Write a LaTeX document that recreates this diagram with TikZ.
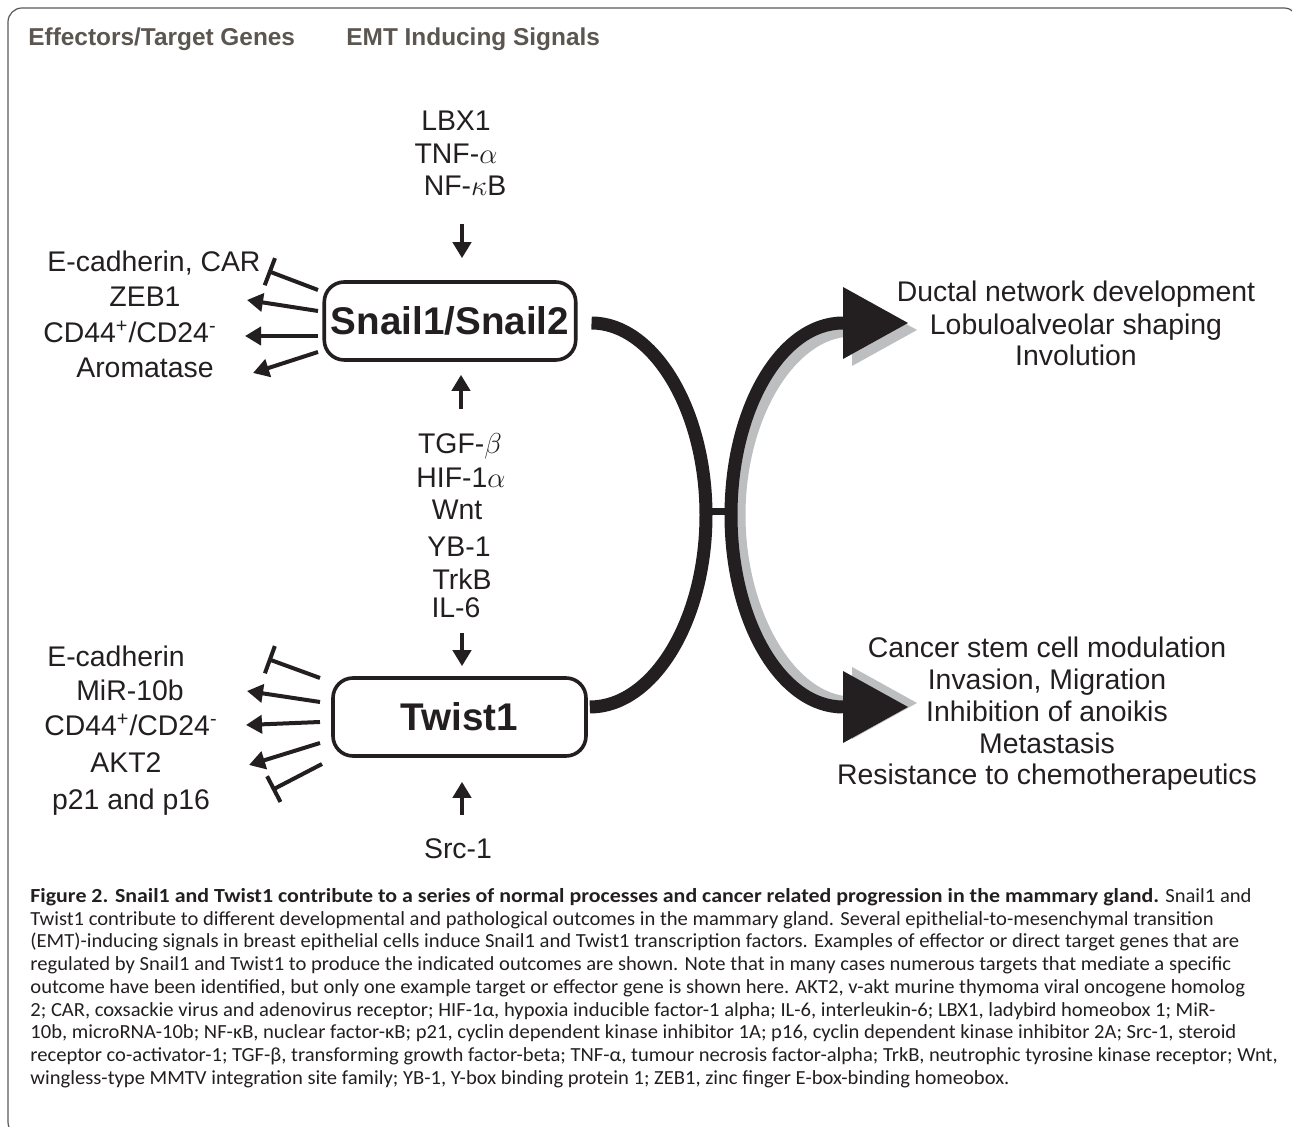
\documentclass[tikz,border=0pt]{standalone}
\usepackage{fontspec}
\setmainfont{Liberation Sans}
\newfontfamily\capfont{Carlito}[FakeStretch=1.03, BoldFeatures={FakeStretch=1.095}]
\usetikzlibrary{arrows.meta,calc}

\definecolor{ink}{HTML}{231F20}
\definecolor{headgray}{HTML}{5C5650}
\definecolor{shadegray}{HTML}{BCBEC0}
\definecolor{framegray}{HTML}{58595B}

\tikzset{
  lbl/.style={font=\fontsize{14.2}{17}\selectfont, text=ink, inner sep=0pt, anchor=base},
  hdr/.style={font=\fontsize{12.2}{14}\selectfont\bfseries, text=headgray, inner sep=0pt, anchor=base west},
  tfbox/.style={draw=ink, line width=1.8pt, rounded corners=10pt, font=\fontsize{19.3}{22}\selectfont\bfseries, text=ink},
  induce/.style={draw=ink, line width=2pt, -{Triangle[length=8pt,width=9pt]}},
  inhib/.style={draw=ink, line width=2pt, -{Bar[width=14.5pt]}},
  outarc/.style={line width=6.5pt, {Triangle[length=32.5pt,width=36pt,line width=0pt]}-{Triangle[length=32.5pt,width=36pt,line width=0pt]}}
}

\begin{document}
\begin{tikzpicture}[x=0.5pt, y=-0.5pt]

 \useasboundingbox (0,0) rectangle (1292,1127);

	%frame
 \draw[framegray, line width=0.6pt, rounded corners=7pt] (30,1136) -- (8,1136) -- (8,8) -- (1298,8) -- (1298,30);

	%titles
 \node[hdr] (hEff) at (28,46) {Effectors/Target Genes};
 \node[hdr] (hEmt) at (346,46) {EMT Inducing Signals};

	%transcription factors
 \node[tfbox, minimum width=124pt, minimum height=39pt] (snail) at (450,321) {Snail1/Snail2};
 \node[tfbox, minimum width=126.5pt, minimum height=39pt] (twist) at (459.5,717) {Twist1};

	%draw signals
    \foreach \x/\y/\txt/\name in {456/131/LBX1/lbx,456/164/TNF-$\alpha$/tnf,465/196/NF-$\kappa$B/nfkb}{
           \node[lbl] (\name) at (\x,\y) {\txt};
    }
    \foreach \x/\y/\txt/\name in {460/454/TGF-$\beta$/tgf,461/488/HIF-1$\alpha$/hif,457/520/Wnt/wnt,459/557/YB-1/yb,462/590/TrkB/trkb,456/618/IL-6/il}{
           \node[lbl] (\name) at (\x,\y) {\txt};
    }
 \node[lbl] (src) at (458,859) {Src-1};

 \draw[induce] ($(nfkb.base)+(-3,28)$) -- ($(nfkb.base |- snail.north)+(-3,-22)$);
 \draw[induce] ($(tgf.base)+(1,-45)$) -- ($(tgf.base |- snail.south)+(1,13)$);
 \draw[induce] ($(il.base)+(6,15)$) -- ($(il.base |- twist.north)+(6,-10)$);
 \draw[induce] ($(src.base)+(4,-44)$) -- ($(src.base |- twist.south)+(4,24)$);

	%draw effectors
    \foreach \x/\y/\txt/\name in {154/272/{E-cadherin, CAR}/se1,145/307/ZEB1/se2,130/343/{CD44\textsuperscript{+}/CD24\textsuperscript{-}}/se3,145/378/Aromatase/se4}{
           \node[lbl] (\name) at (\x,\y) {\txt};
    }
    \foreach \x/\y/\txt/\name in {116/667/E-cadherin/te1,130/701/MiR-10b/te2,131/736/{CD44\textsuperscript{+}/CD24\textsuperscript{-}}/te3,126/773/AKT2/te4,131/810/p21 and p16/te5}{
           \node[lbl] (\name) at (\x,\y) {\txt};
    }

    \foreach \i/\ya/\xb/\yb/\kind in {1/290/268/271/inhib,2/311/247/300/induce,3/336/245/336/induce,4/352/253/373/induce}{
         \coordinate (sa\i) at (318,\ya);
         \coordinate (sb\i) at (\xb,\yb);
         \draw[\kind] (sa\i) -- (sb\i);
    }
    \foreach \i/\xa/\ya/\xb/\yb/\kind in {1/320/678/268/659/inhib,2/320/702/247/691/induce,3/320/722/246/725/induce,4/320/743/249/765/induce,5/322/764/272/790/inhib}{
         \coordinate (ta\i) at (\xa,\ya);
         \coordinate (tb\i) at (\xb,\yb);
         \draw[\kind] (ta\i) -- (tb\i);
    }

	%outcomes
    \foreach \y/\txt/\name in {302/Ductal network development/dev,335/Lobuloalveolar shaping/lob,366/Involution/inv}{
           \node[lbl] (\name) at (1076,\y) {\txt};
    }
    \foreach \y/\txt/\name in {658/Cancer stem cell modulation/csc,690/{Invasion, Migration}/mig,722/Inhibition of anoikis/ano,754/Metastasis/met,785/Resistance to chemotherapeutics/res}{
           \node[lbl] (\name) at (1047,\y) {\txt};
    }

 \coordinate (sOut) at ($(snail.east)+(14,2)$);
 \coordinate (tOut) at ($(twist.east)+(2,-10)$);
 \coordinate (jl) at (706,515);
 \coordinate (jr) at (731,515);
 \coordinate (devTip) at (908,323);
 \coordinate (cscTip) at (908,707);

 \draw[ink, line width=6.5pt] (sOut) .. controls (653,323) and (706,409) .. (jl) .. controls (706,621) and (653,707) .. (tOut);

 \draw[outarc, shadegray] ($(devTip)+(9,7)$) -- (852,330) .. controls (791,330) and (739,415) .. (739,515) .. controls (739,615) and (791,703) .. (852,703) -- ($(cscTip)+(9,-4)$);
 \draw[outarc, ink] (devTip) -- (843,323) .. controls (781,323) and (731,409) .. (jr) .. controls (731,621) and (781,707) .. (843,707) -- (cscTip);
 \fill[ink] (712,508) rectangle (725,515);

	%caption
 \node[anchor=north west, align=left, inner sep=0pt, text=ink, font=\capfont\fontsize{10}{11.375}\selectfont] (cap) at (30,888) {\textbf{Figure 2. Snail1 and Twist1 contribute to a series of normal processes and cancer related progression in the mammary gland.} Snail1 and\\
Twist1 contribute to different developmental and pathological outcomes in the mammary gland. Several epithelial-to-mesenchymal transition\\
(EMT)-inducing signals in breast epithelial cells induce Snail1 and Twist1 transcription factors. Examples of effector or direct target genes that are\\
regulated by Snail1 and Twist1 to produce the indicated outcomes are shown. Note that in many cases numerous targets that mediate a specific\\
outcome have been identified, but only one example target or effector gene is shown here. AKT2, v-akt murine thymoma viral oncogene homolog\\
2; CAR, coxsackie virus and adenovirus receptor; HIF-1α, hypoxia inducible factor-1 alpha; IL-6, interleukin-6; LBX1, ladybird homeobox 1; MiR-\\
10b, microRNA-10b; NF-κB, nuclear factor-κB; p21, cyclin dependent kinase inhibitor 1A; p16, cyclin dependent kinase inhibitor 2A; Src-1, steroid\\
receptor co-activator-1; TGF-β, transforming growth factor-beta; TNF-α, tumour necrosis factor-alpha; TrkB, neutrophic tyrosine kinase receptor; Wnt,\\
wingless-type MMTV integration site family; YB-1, Y-box binding protein 1; ZEB1, zinc finger E-box-binding homeobox.};

\end{tikzpicture}
\end{document}
